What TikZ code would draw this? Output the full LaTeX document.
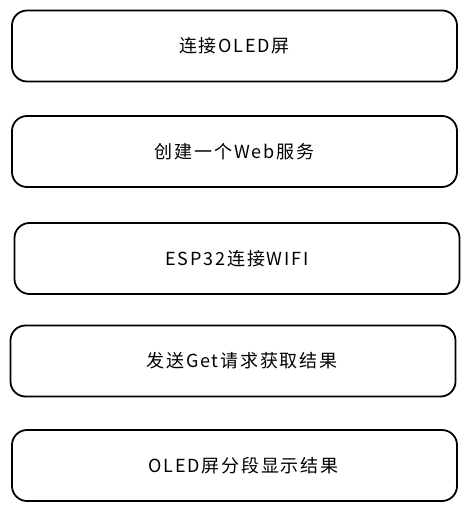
\documentclass[tikz,border=0pt]{standalone}
\usepackage{fontspec}
\setmainfont{Noto Sans CJK SC}[LetterSpace=10]
\begin{document}
\begin{tikzpicture}[x=1pt,y=-1pt,
    stepbox/.style={draw,line width=1.8pt,rounded corners=15pt,minimum width=445pt,minimum height=71pt,inner sep=0pt,font=\fontsize{18pt}{20pt}\selectfont}]
        \useasboundingbox (0,0) rectangle (470,510);
        \node (A) at (234.5,46) [stepbox] {连接OLED屏\hspace{12pt}};
        \node (B) at (234.5,151.5) [stepbox] {创建一个Web服务};
        \node (C) at (237,258.5) [stepbox] {ESP32连接WIFI};
        \node (D) at (233,361) [stepbox] {\hspace{18pt}发送Get请求获取结果};
        \node (E) at (234.5,465.5) [stepbox] {\hspace{18pt}OLED屏分段显示结果};
    \end{tikzpicture}
\end{document}
